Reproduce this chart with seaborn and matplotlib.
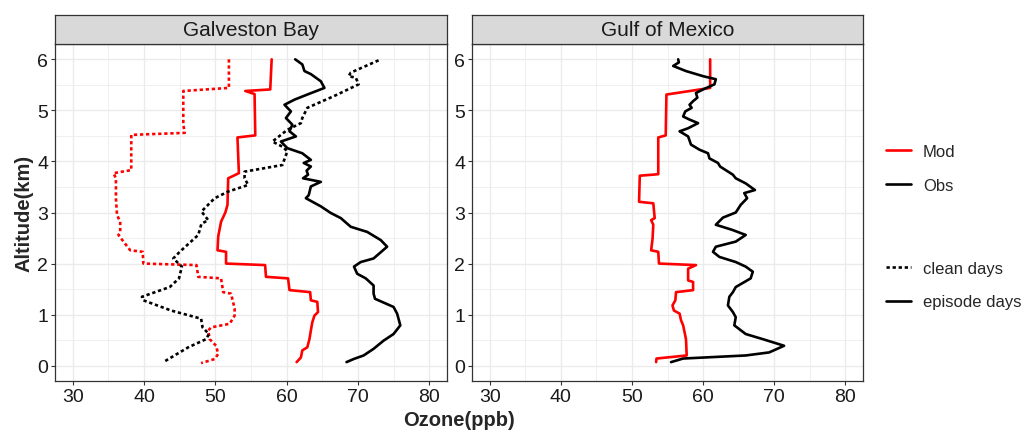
import numpy as np
import pandas as pd
import matplotlib
matplotlib.use("Agg")
import matplotlib.pyplot as plt
from matplotlib.lines import Line2D
from matplotlib.ticker import MultipleLocator
import seaborn as sns

# ---------------- data ----------------
regions = ["Galveston Bay", "Gulf of Mexico"]
x_ticks = [30, 40, 50, 60, 70, 80]
y_ticks = [0, 1, 2, 3, 4, 5, 6]
source_order = ["Mod", "Obs"]
days_order = ["clean days", "episode days"]

# Galveston Bay, model, clean days
gb_mod_clean_alt = [6.0, 5.44, 5.38, 4.72, 4.56, 4.52, 3.83, 3.77, 3.67, 3.28,
                    2.95, 2.82, 2.62, 2.56, 2.26, 2.23, 2.0, 1.97, 1.74, 1.71,
                    1.44, 1.41, 1.12, 0.98, 0.82, 0.75, 0.69, 0.52, 0.39, 0.23,
                    0.13, 0.05]
gb_mod_clean_oz = [51.9, 51.9, 45.5, 45.5, 45.7, 38.2, 38.2, 35.7, 36.05, 36.05,
                   36.2, 36.65, 36.65, 36.4, 38.05, 39.8, 39.9, 47.35, 47.6, 50.8,
                   51.1, 52.2, 52.7, 52.7, 52.0, 49.4, 49.0, 49.2, 50.1, 50.4,
                   49.9, 48.0]

# Galveston Bay, model, episode days
gb_mod_epis_alt = [6.0, 5.41, 5.38, 5.32, 4.51, 4.47, 3.77, 3.67, 3.15, 3.0,
                   2.82, 2.53, 2.26, 2.23, 2.0, 1.97, 1.74, 1.71, 1.48, 1.44,
                   1.28, 1.25, 1.05, 0.98, 0.85, 0.69, 0.52, 0.36, 0.30, 0.16,
                   0.07]
gb_mod_epis_oz = [57.9, 57.7, 54.2, 55.5, 55.6, 53.1, 53.3, 51.8, 51.7, 51.4,
                  50.8, 50.4, 50.3, 51.5, 51.5, 56.98, 57.1, 60.2, 60.4, 63.3,
                  63.4, 64.3, 64.4, 63.9, 63.6, 63.4, 63.2, 62.9, 62.2, 62.0,
                  61.4]

# Galveston Bay, observed, clean days
gb_obs_clean_alt = [5.98, 5.74, 5.67, 5.64, 5.51, 5.28, 5.05, 4.85, 4.75, 4.62,
                    4.52, 4.39, 4.29, 4.2, 3.93, 3.8, 3.67, 3.54, 3.41, 3.28,
                    3.02, 2.85, 2.78, 2.56, 2.23, 2.1, 1.94, 1.71, 1.54, 1.35,
                    1.28, 1.08, 0.92, 0.75, 0.62, 0.52, 0.36, 0.07]
gb_obs_clean_oz = [72.9, 69.0, 68.7, 69.7, 70.1, 66.65, 62.9, 62.2, 62.0, 60.1,
                   59.2, 58.0, 59.4, 60.1, 59.4, 54.1, 54.1, 54.6, 51.8, 49.9,
                   48.05, 49.0, 48.05, 47.6, 45.0, 44.1, 45.3, 44.9, 43.6, 39.7,
                   39.9, 43.8, 48.0, 48.2, 49.1, 48.7, 46.2, 42.7]

# Galveston Bay, observed, episode days
gb_obs_epis_alt = [6.0, 5.9, 5.77, 5.71, 5.57, 5.44, 5.31, 5.21, 5.11, 4.98,
                   4.85, 4.72, 4.59, 4.49, 4.39, 4.26, 4.16, 4.03, 3.97, 3.9,
                   3.82, 3.74, 3.67, 3.6, 3.51, 3.34, 3.28, 3.12, 2.99, 2.89,
                   2.72, 2.62, 2.46, 2.33, 2.1, 2.03, 1.94, 1.8, 1.71, 1.57,
                   1.41, 1.31, 1.15, 1.02, 0.79, 0.62, 0.49, 0.33, 0.2, 0.13,
                   0.07]
gb_obs_epis_oz = [61.2, 62.2, 62.5, 63.4, 64.8, 65.3, 62.9, 61.1, 59.7, 60.6,
                  59.9, 60.8, 60.4, 61.3, 59.2, 60.1, 62.2, 63.4, 62.4, 63.4,
                  62.8, 63.0, 62.3, 64.8, 63.4, 63.1, 62.7, 64.8, 66.2, 67.6,
                  69.0, 71.3, 73.2, 74.1, 72.2, 70.4, 69.45, 69.9, 71.1, 72.2,
                  72.2, 72.4, 75.0, 75.5, 75.95, 75.0, 73.6, 72.2, 70.8, 69.4,
                  68.4]

# Gulf of Mexico, model, episode days
gm_mod_epis_alt = [6.0, 5.44, 5.31, 4.51, 4.47, 3.75, 3.72, 3.21, 3.18, 2.89,
                   2.85, 2.76, 2.49, 2.26, 2.23, 2.0, 1.97, 1.9, 1.67, 1.64,
                   1.48, 1.44, 1.28, 1.18, 1.08, 1.02, 0.89, 0.79, 0.52, 0.2,
                   0.14, 0.07]
gm_mod_epis_oz = [61.0, 61.0, 54.85, 54.75, 53.7, 53.7, 51.1, 51.0, 53.0, 53.2,
                  52.7, 53.0, 52.9, 52.7, 53.7, 53.8, 59.0, 57.9, 57.9, 58.6,
                  58.6, 56.2, 56.1, 55.7, 55.9, 56.7, 56.9, 57.2, 57.6, 57.7,
                  53.45, 53.4]

# Gulf of Mexico, observed, episode days
gm_obs_epis_alt = [6.0, 5.94, 5.87, 5.77, 5.67, 5.61, 5.51, 5.41, 5.34, 5.25,
                   5.18, 5.11, 5.05, 4.98, 4.88, 4.82, 4.75, 4.65, 4.59, 4.49,
                   4.33, 4.23, 4.16, 4.06, 3.97, 3.9, 3.74, 3.67, 3.57, 3.44,
                   3.38, 3.28, 3.15, 3.0, 2.9, 2.76, 2.66, 2.56, 2.43, 2.33,
                   2.23, 2.13, 2.03, 1.94, 1.84, 1.71, 1.54, 1.44, 1.35, 1.18,
                   1.05, 0.95, 0.79, 0.62, 0.52, 0.39, 0.26, 0.2, 0.14, 0.07]
gm_obs_epis_oz = [56.5, 56.6, 55.8, 57.6, 60.0, 61.8, 61.6, 60.0, 59.0, 59.2,
                  58.6, 58.1, 58.4, 57.5, 57.2, 58.1, 59.3, 57.9, 56.7, 57.9,
                  58.3, 59.5, 60.7, 60.9, 62.1, 62.4, 64.2, 64.6, 66.0, 67.3,
                  65.8, 66.2, 65.3, 64.6, 62.8, 61.8, 64.1, 66.0, 64.6, 61.8,
                  61.4, 62.3, 64.6, 66.0, 67.0, 66.7, 64.6, 64.2, 63.7, 63.5,
                  64.2, 64.6, 64.4, 66.0, 68.4, 71.4, 69.3, 66.0, 57.2, 55.5]

series_list = [
    ("Galveston Bay", "Mod", "clean days", gb_mod_clean_oz, gb_mod_clean_alt),
    ("Galveston Bay", "Mod", "episode days", gb_mod_epis_oz, gb_mod_epis_alt),
    ("Galveston Bay", "Obs", "clean days", gb_obs_clean_oz, gb_obs_clean_alt),
    ("Galveston Bay", "Obs", "episode days", gb_obs_epis_oz, gb_obs_epis_alt),
    ("Gulf of Mexico", "Mod", "episode days", gm_mod_epis_oz, gm_mod_epis_alt),
    ("Gulf of Mexico", "Obs", "episode days", gm_obs_epis_oz, gm_obs_epis_alt),
]

frames = []
for i, (reg, src, dy, oz, alt) in enumerate(series_list):
    frames.append(pd.DataFrame({"ozone": oz, "alt": alt, "region": reg,
                                "source": src, "days": dy, "series": i}))
df = pd.concat(frames, ignore_index=True)

# ---------------- style ----------------
sns.set_theme(style="white")
plt.rcParams["font.family"] = ["Liberation Sans", "DejaVu Sans"]

palette = {"Mod": "#FF0000", "Obs": "#000000"}
dash_map = {"clean days": (1.25, 1.05), "episode days": ""}
LW = 1.9

W, H = 1025, 431
fig = plt.figure(figsize=(W / 100, H / 100), dpi=100)
panels = [(55, 447), (472, 863)]
p_top, p_bot, s_top = 45, 382, 16
frame_col = "#333333"

for reg, (l, r) in zip(regions, panels):
    ax = fig.add_axes([l / W, 1 - p_bot / H, (r - l) / W, (p_bot - p_top) / H])
    sub = df[df["region"] == reg]
    sns.lineplot(data=sub, x="ozone", y="alt", hue="source", style="days",
                 units="series", estimator=None, sort=False,
                 hue_order=source_order, style_order=days_order,
                 palette=palette, dashes=dash_map, linewidth=LW,
                 legend=False, ax=ax)
    ax.set_xlim(27.5, 82.5)
    ax.set_ylim(-0.3, 6.3)
    ax.set_xticks(x_ticks)
    ax.set_yticks(y_ticks)
    ax.xaxis.set_minor_locator(MultipleLocator(5))
    ax.yaxis.set_minor_locator(MultipleLocator(0.5))
    ax.set_axisbelow(True)
    ax.grid(which="major", color="#EBEBEB", linewidth=1.0)
    ax.grid(which="minor", color="#EBEBEB", linewidth=0.55)
    ax.tick_params(which="major", bottom=True, left=True, length=3,
                   width=0.8, color=frame_col, labelsize=14,
                   labelcolor="#1A1A1A", pad=2)
    ax.tick_params(which="minor", bottom=False, left=False, length=0)
    ax.set_xlabel("")
    ax.set_ylabel("")
    for s in ax.spines.values():
        s.set_color(frame_col)
        s.set_linewidth(0.9)
        s.set_visible(True)

    sax = fig.add_axes([l / W, 1 - p_top / H, (r - l) / W, (p_top - s_top) / H])
    sax.set_facecolor("#D9D9D9")
    sax.set_xticks([])
    sax.set_yticks([])
    for s in sax.spines.values():
        s.set_color(frame_col)
        s.set_linewidth(0.9)
        s.set_visible(True)
    sax.text(0.5, 0.5, reg, ha="center", va="center", fontsize=15,
             color="#1A1A1A", transform=sax.transAxes)

fig.text(459 / W, 1 - 421 / H, "Ozone(ppb)", ha="center", va="center",
         fontsize=14.5, fontweight="bold")
fig.text(24 / W, 1 - 213.5 / H, "Altitude(km)", ha="center", va="center",
         rotation=90, fontsize=14.5, fontweight="bold")

# legends
h1 = [Line2D([], [], color=palette[s], lw=LW) for s in source_order]
h2 = [Line2D([], [], color="black", lw=LW, linestyle=(0, dash_map["clean days"])),
      Line2D([], [], color="black", lw=LW)]
leg_kw = dict(frameon=False, fontsize=12, handlelength=1.5, handletextpad=0.72,
              labelspacing=1.1, borderpad=0, borderaxespad=0, loc="center left")
fig.legend(h1, source_order, bbox_to_anchor=(886 / W, 1 - 169.5 / H), **leg_kw)
fig.legend(h2, days_order, bbox_to_anchor=(886 / W, 1 - 286.3 / H), **leg_kw)

fig.savefig("out.png", dpi=100)
